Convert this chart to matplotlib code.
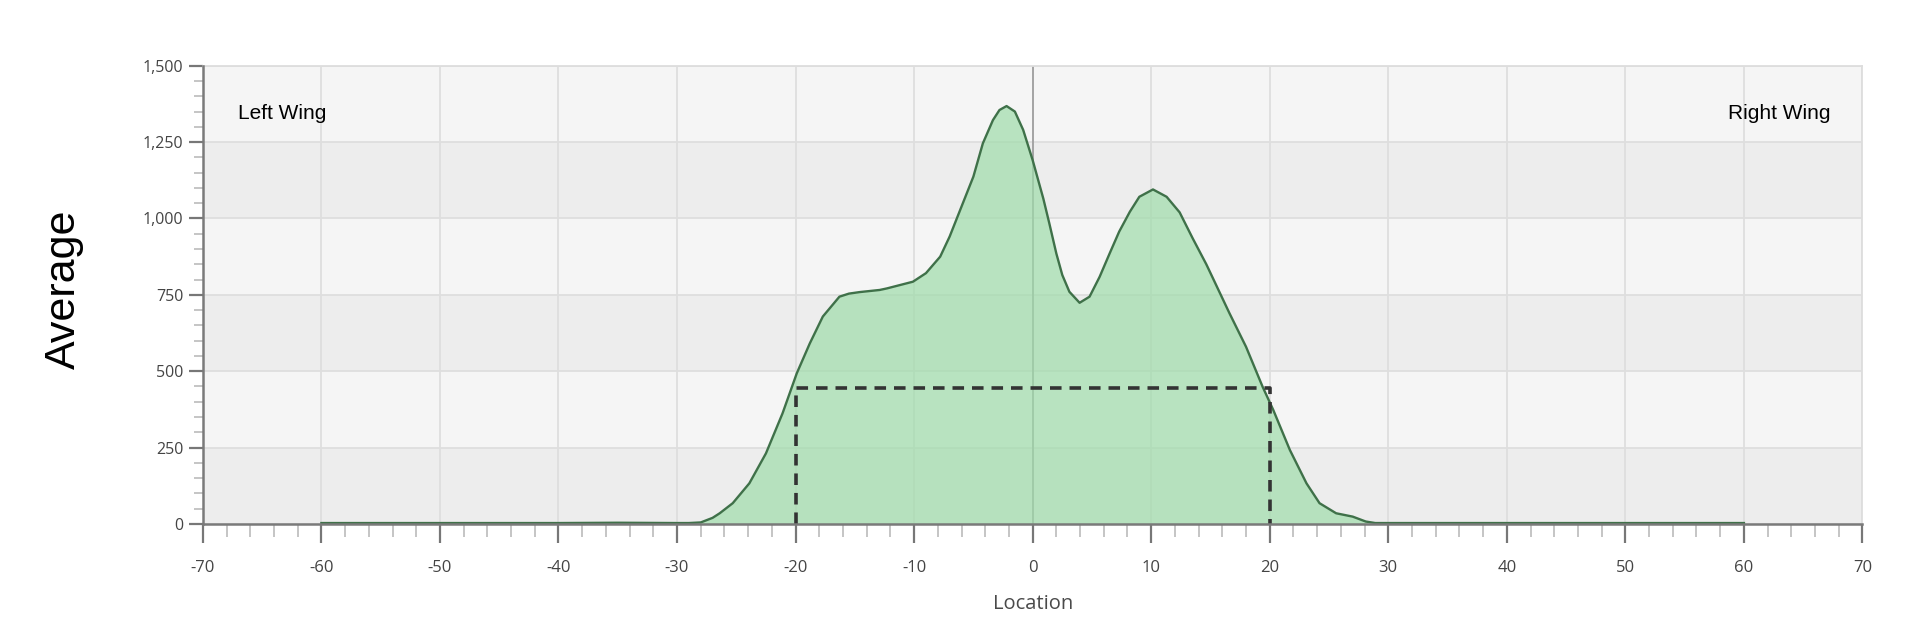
import numpy as np
import matplotlib
matplotlib.use("Agg")
import matplotlib.pyplot as plt
from matplotlib.ticker import MultipleLocator, FuncFormatter

plt.rcParams['axes.unicode_minus'] = False

# curve
loc = [-60, -40, -35, -30, -29, -28, -27, -26.4, -25.3, -23.9, -22.5, -21.1, -19.9, -18.8,
       -17.7, -16.3, -15.5, -14.6, -12.9, -12.3, -10.1, -9, -7.8, -7, -6, -5, -4.2,
       -3.35, -2.8, -2.2, -1.5, -0.8, 0, 0.9, 1.4, 2.0, 2.5, 3.1, 3.96, 4.8, 5.65, 6.5, 7.3,
       8.2, 9.0, 10.15, 11.3, 12.4, 13.5, 14.65, 15.2, 16.6, 18, 19.4, 20.3, 21.7, 23.1,
       24.2, 25.6, 27, 28.1, 28.9, 30, 60]
avg = [3, 3, 4, 3, 3, 5, 20, 35, 68, 133, 231, 362, 493, 591,
       679, 744, 754, 759, 766, 771, 793, 821, 875, 941, 1039, 1137, 1246,
       1322, 1355, 1368, 1350, 1290, 1191, 1065, 985, 885, 815, 760, 724, 744, 809, 886, 957,
       1022, 1071, 1095, 1071, 1020, 935, 850, 805, 690, 580, 449, 373, 242, 133,
       68, 35, 24, 8, 3, 3, 3]

box_left, box_right, box_top = -20, 20, 445

fig = plt.figure(figsize=(19.32, 6.26), dpi=100)
ax = fig.add_axes([0.105, 0.163, 0.859, 0.732])

ax.set_xlim(-70, 70)
ax.set_ylim(0, 1500)

# alternating horizontal bands
for i, lo in enumerate(range(0, 1500, 250)):
    ax.axhspan(lo, lo + 250, color='#ededed' if i % 2 == 0 else '#f5f5f5', zorder=0, lw=0)

ax.grid(True, which='major', color='#dedede', lw=1.3, zorder=1)
ax.set_axisbelow(True)
ax.axvline(0, color='#9a9a9a', lw=1.2, zorder=1.5)

ax.fill_between(loc, avg, color='#9fdcaa', alpha=0.7, lw=0, zorder=2)
ax.plot(loc, avg, color='#3f7149', lw=1.7, zorder=3, solid_joinstyle='round')

ax.plot([box_left, box_left, box_right, box_right], [0, box_top, box_top, 0],
        color='#333333', lw=2.6, ls=(0, (3.2, 2.2)), zorder=4)

ax.text(-67, 1345, 'Left Wing', fontsize=15, family='Liberation Sans', va='center', ha='left')
ax.text(67.3, 1345, 'Right Wing', fontsize=15, family='Liberation Sans', va='center', ha='right')

ax.xaxis.set_major_locator(MultipleLocator(10))
ax.xaxis.set_minor_locator(MultipleLocator(2))
ax.yaxis.set_major_locator(MultipleLocator(250))
ax.yaxis.set_minor_locator(MultipleLocator(50))
ax.yaxis.set_major_formatter(FuncFormatter(lambda v, p: f'{int(v):,}'))

for s in ['top', 'right']:
    ax.spines[s].set_color('#dddddd')
    ax.spines[s].set_linewidth(1.3)
for s in ['left', 'bottom']:
    ax.spines[s].set_color('#7a7a7a')
    ax.spines[s].set_linewidth(1.8)
    ax.spines[s].set_zorder(5)

ax.tick_params(axis='x', which='major', length=14, width=1.6, color='#777777', pad=12,
               labelsize=12, labelcolor='#444444')
ax.tick_params(axis='x', which='minor', length=9, width=1.2, color='#bbbbbb')
ax.tick_params(axis='y', which='major', length=10, width=1.6, color='#777777', pad=4,
               labelsize=11.5, labelcolor='#444444')
ax.tick_params(axis='y', which='minor', length=6.5, width=1.2, color='#bbbbbb')
for lab in ax.get_xticklabels() + ax.get_yticklabels():
    lab.set_family('Open Sans')

ax.set_xlabel('Location', fontsize=14.5, color='#4a4a4a', family='Open Sans', labelpad=13)
fig.text(0.033, 0.5375, 'Average', rotation=90, fontsize=31, family='Liberation Sans',
         va='center', ha='center')

fig.savefig('out.png', dpi=100)
